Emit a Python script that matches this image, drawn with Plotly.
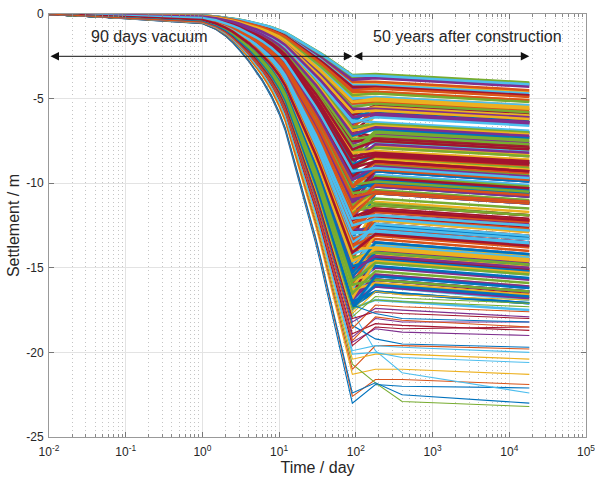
import math
import plotly.graph_objects as go

# ---------------- data ----------------
vacuum_days = [0.01, 1, 1.5, 2, 2.5, 3, 4, 5, 6, 7, 8, 10, 12, 15, 20, 25, 30, 35,
               40, 50, 60, 70, 80, 90]
vacuum_fraction = [0, 0.025, 0.04, 0.057, 0.075, 0.092, 0.122, 0.148, 0.172, 0.195,
                   0.216, 0.258, 0.30, 0.37, 0.46, 0.53, 0.59, 0.645, 0.695, 0.78,
                   0.845, 0.90, 0.95, 1.0]

band_post_days = [180, 18250]
deep_post_days = [180, 400, 18250]

band_s90 = [
    -7.3, -12.8, -4.1, -15.6, -9.9, -5.4, -16.9, -11.2, -8.0, -13.7,
    -3.8, -14.4, -10.5, -6.6, -17.3, -12.1, -4.7, -9.2, -15.0, -7.9,
    -11.8, -5.9, -16.2, -8.6, -13.1, -3.6, -10.0, -14.9, -6.2, -12.5,
    -17.5, -4.4, -9.5, -15.9, -7.0, -11.5, -5.1, -13.9, -8.9, -16.5,
    -10.8, -6.9, -14.1, -4.0, -12.3, -16.0, -7.6, -9.0, -5.7, -13.3,
    -15.3, -8.3, -3.9, -11.0, -17.0, -6.0, -12.9, -10.2, -4.9, -14.6,
    -9.3, -16.7, -7.1, -13.5, -5.3, -11.6, -15.5, -8.4, -4.2, -12.0,
    -6.4, -14.0, -10.7, -17.2, -8.1, -5.0, -13.0, -9.7, -15.8, -7.4,
    -11.4, -3.7, -16.3, -12.6, -6.8, -10.3, -14.8, -8.7, -5.5, -17.4,
    -13.6, -9.1, -4.6, -15.2, -7.7, -11.9, -6.3, -16.6, -10.1, -14.3,
    -5.2, -12.2, -8.8, -17.1, -4.3, -13.8, -9.6, -15.7, -6.5, -11.1,
    -16.1, -7.5, -10.4, -14.5, -5.8, -12.7, -8.2, -3.65, -13.4, -9.4,
    -6.7, -15.1, -11.3, -4.8, -16.4, -10.6, -7.2, -14.2, -12.4, -5.6,
    -8.5, -13.2, -16.8, -9.8, -4.5, -15.4, -6.1, -11.7, -14.7, -10.9,
    -8.9, -13.3, -16.1, -10.9, -6.7, -14.7, -12.0, -9.4, -15.9, -11.6,
    -17.1, -7.8, -12.9, -15.0, -10.4, -13.8, -8.2, -16.6, -11.3, -14.2,
    -9.6, -15.5, -12.4, -6.9, -16.9, -10.1, -13.5, -8.6, -14.9, -11.9,
    -16.3, -11.1, -7.4, -14.0, -9.1, -17.4, -12.7, -5.8, -15.2, -10.6,
    -13.0, -8.0, -15.7, -11.5, -16.8, -9.8, -14.4, -6.4, -12.2, -17.0,
    -10.2, -14.6, -7.1, -16.0, -12.5, -9.0, -15.3, -13.7, -5.2, -11.0,
    -15.8, -12.1, -8.4, -17.3, -10.8, -13.9, -6.1, -16.5, -9.3, -14.1,
]
band_s180 = [
    -6.5, -11.3, -4.1, -13.6, -10.2, -5.3, -15.7, -10.6, -8.5, -11.5,
    -3.7, -11.9, -9.5, -6.8, -16.4, -12.4, -4.6, -7.8, -14.5, -7.6,
    -10.0, -5.9, -13.6, -7.9, -13.5, -3.55, -9.8, -13.8, -5.8, -11.6,
    -15.9, -4.3, -10.0, -15.5, -5.9, -9.1, -5.1, -13.6, -7.2, -14.4,
    -10.1, -7.3, -12.2, -4.0, -11.1, -15.0, -7.4, -8.1, -5.6, -10.6,
    -12.4, -7.8, -3.8, -11.2, -14.7, -5.4, -12.5, -8.6, -4.9, -13.8,
    -8.2, -16.1, -7.4, -12.2, -5.2, -11.5, -14.0, -8.6, -4.2, -10.0,
    -5.5, -13.3, -8.6, -14.4, -7.9, -4.9, -11.3, -9.3, -14.5, -6.0,
    -11.7, -3.6, -14.5, -12.0, -6.5, -9.0, -14.6, -7.7, -5.3, -16.9,
    -12.8, -9.7, -4.6, -13.0, -7.1, -10.9, -6.4, -14.1, -10.2, -12.7,
    -5.0, -9.9, -8.9, -15.7, -4.3, -12.6, -8.8, -15.4, -6.0, -9.6,
    -14.2, -7.4, -9.9, -12.1, -5.5, -12.8, -6.9, -3.65, -12.8, -9.8,
    -5.7, -14.2, -9.3, -4.7, -15.7, -9.7, -6.8, -11.6, -12.2, -5.6,
    -7.0, -13.0, -15.7, -9.2, -4.4, -13.6, -5.9, -11.3, -13.7, -9.2,
    -8.3, -12.9, -14.4, -10.6, -6.5, -13.5, -11.5, -9.3, -13.9, -10.5,
    -16.1, -7.5, -12.9, -14.4, -10.0, -11.9, -8.1, -15.7, -10.5, -13.7,
    -8.7, -14.1, -11.7, -6.6, -15.4, -9.9, -12.6, -8.3, -14.5, -10.6,
    -15.9, -10.2, -7.2, -12.4, -8.7, -16.0, -11.6, -5.7, -14.3, -10.4,
    -12.8, -7.5, -14.9, -10.1, -14.6, -9.0, -14.1, -6.1, -11.6, -16.4,
    -9.2, -13.9, -6.7, -15.7, -12.1, -8.4, -13.5, -13.1, -5.1, -10.5,
    -14.7, -11.9, -8.2, -15.5, -10.5, -13.8, -5.9, -15.2, -9.1, -13.0,
]
band_s50y = [
    -7.0, -11.9, -4.6, -14.3, -10.8, -5.8, -16.5, -11.2, -9.0, -12.2,
    -4.2, -12.5, -10.1, -7.3, -17.1, -13.1, -5.1, -8.4, -15.2, -8.1,
    -10.6, -6.4, -14.3, -8.4, -14.2, -4.05, -10.4, -14.5, -6.3, -12.2,
    -16.7, -4.8, -10.6, -16.2, -6.4, -9.7, -5.6, -14.3, -7.7, -15.1,
    -10.7, -7.8, -12.8, -4.5, -11.7, -15.7, -7.9, -8.7, -6.1, -11.2,
    -13.1, -8.3, -4.3, -11.9, -15.4, -5.9, -13.2, -9.2, -5.4, -14.5,
    -8.8, -16.9, -7.9, -12.8, -5.7, -12.2, -14.7, -9.1, -4.7, -10.6,
    -6.0, -14.0, -9.2, -15.1, -8.4, -5.4, -11.9, -9.9, -15.2, -6.5,
    -12.4, -4.1, -15.2, -12.6, -7.0, -9.6, -15.3, -8.2, -5.8, -17.5,
    -13.5, -10.3, -5.1, -13.7, -7.6, -11.5, -6.9, -14.8, -10.8, -13.3,
    -5.5, -10.5, -9.5, -16.4, -4.8, -13.3, -9.4, -16.1, -6.5, -10.2,
    -14.9, -7.9, -10.5, -12.7, -6.0, -13.5, -7.4, -4.15, -13.5, -10.4,
    -6.2, -14.9, -9.9, -5.2, -16.4, -10.3, -7.3, -12.2, -12.9, -6.1,
    -7.5, -13.7, -16.4, -9.8, -4.9, -14.3, -6.4, -11.9, -14.4, -9.8,
    -8.8, -13.6, -15.1, -11.2, -7.0, -14.2, -12.1, -9.9, -14.6, -11.1,
    -16.8, -8.0, -13.6, -15.1, -10.6, -12.5, -8.6, -16.4, -11.1, -14.4,
    -9.3, -14.8, -12.3, -7.1, -16.1, -10.5, -13.3, -8.8, -15.2, -11.2,
    -16.6, -10.8, -7.7, -13.1, -9.3, -16.7, -12.2, -6.2, -15.0, -11.0,
    -13.5, -8.0, -15.6, -10.7, -15.3, -9.6, -14.8, -6.6, -12.2, -17.1,
    -9.8, -14.6, -7.2, -16.4, -12.8, -8.9, -14.2, -13.8, -5.6, -11.1,
    -15.4, -12.5, -8.7, -16.2, -11.1, -14.5, -6.4, -15.9, -9.7, -13.7,
]

deep_s90 = [-23.0, -22.6, -21.3, -19.4, -20.7, -17.6, -18.9, -22.4, -21.0, -20.4,
            -18.2, -17.9, -19.9, -19.6, -18.4, -18.6, -17.7, -19.1, -17.4, -20.1,
            -18.0, -17.2, -19.3]
deep_s180 = [-21.9, -21.6, -21.0, -18.6, -21.8, -19.9, -18.3, -21.8, -19.6, -20.1,
             -17.4, -16.7, -19.6, -18.5, -19.2, -17.2, -16.4, -18.0, -16.9, -20.0,
             -17.6, -17.7, -17.9]
deep_s400 = [-22.0, -21.6, -21.0, -18.8, -22.9, -21.2, -18.4, -22.5, -19.6, -20.1,
             -17.5, -16.8, -19.7, -18.6, -19.5, -17.3, -16.6, -18.2, -17.0, -20.3,
             -17.7, -18.0, -18.1]
deep_s50y = [-22.1, -21.9, -21.3, -19.0, -23.2, -22.4, -18.7, -23.0, -19.8, -20.4,
             -17.9, -17.1, -20.0, -18.5, -19.7, -17.6, -16.9, -18.2, -17.3, -20.6,
             -18.0, -18.2, -18.5]

y_tick_values = [0, -5, -10, -15, -20, -25]
x_tick_exponents = [-2, -1, 0, 1, 2, 3, 4, 5]

vacuum_label = "90 days vacuum"
post_label = "50 years after construction"

# ---------------- styling ----------------
palette = ["#0072BD", "#D95319", "#EDB120", "#7E2F8E", "#77AC30", "#4DBEEE", "#A2142F"]
FONT = "Liberation Sans, Arial, Helvetica, sans-serif"
TXT = "#262626"

fig = go.Figure()
for i, s in enumerate(band_s90):
    xs = vacuum_days + band_post_days
    ys = [s * f for f in vacuum_fraction] + [band_s180[i], band_s50y[i]]
    fig.add_trace(go.Scatter(x=xs, y=ys, mode="lines",
                             line=dict(color=palette[i % 7], width=2.5),
                             showlegend=False, hoverinfo="skip"))
for i, s in enumerate(deep_s90):
    xs = vacuum_days + deep_post_days
    ys = [s * f for f in vacuum_fraction] + [deep_s180[i], deep_s400[i], deep_s50y[i]]
    fig.add_trace(go.Scatter(x=xs, y=ys, mode="lines",
                             line=dict(color=palette[i % 7], width=1.1),
                             showlegend=False, hoverinfo="skip"))

t_start = vacuum_days[0]
t_vac = vacuum_days[-1]
t_end = band_post_days[-1]
arrow_y = -2.5
label_y = -1.35

for a, b in [(t_start, t_vac), (t_vac, t_end)]:
    fig.add_annotation(x=math.log10(b), y=arrow_y, ax=math.log10(a), ay=arrow_y,
                       xref="x", yref="y", axref="x", ayref="y", text="",
                       showarrow=True, arrowhead=2, startarrowhead=2,
                       arrowside="end+start", arrowsize=1.7, startarrowsize=1.7,
                       arrowwidth=1, arrowcolor="#111", standoff=0, startstandoff=0)

fig.add_annotation(x=-0.69, y=label_y, xref="x", yref="y", text=vacuum_label,
                   showarrow=False, font=dict(family=FONT, size=16, color=TXT))
fig.add_annotation(x=3.46, y=label_y, xref="x", yref="y", text=post_label,
                   showarrow=False, font=dict(family=FONT, size=16, color=TXT))

minor_vals = [m * 10 ** e for e in x_tick_exponents[:-1] for m in range(2, 10)]

fig.update_layout(
    width=595, height=481,
    margin=dict(l=49, r=9, t=14, b=44),
    paper_bgcolor="white", plot_bgcolor="white",
    font=dict(family=FONT, size=12, color=TXT),
    xaxis=dict(
        type="log", range=[-2, 5], automargin=False,
        tickmode="array",
        tickvals=[10 ** e for e in x_tick_exponents],
        ticktext=["10<sup>%d</sup>" % e for e in x_tick_exponents],
        ticklabeloverflow="allow", ticklabelstandoff=4,
        ticks="inside", ticklen=5, tickcolor="#777",
        showline=True, linecolor="#999", linewidth=1, mirror="ticks",
        showgrid=True, gridcolor="#e3e3e3", gridwidth=1,
        minor=dict(tickmode="array", tickvals=minor_vals, ticks="inside",
                   ticklen=3, tickcolor="#888", showgrid=True,
                   gridcolor="#c4c4c4", griddash="1px,3px", gridwidth=1),
        zeroline=False,
        tickfont=dict(family=FONT, size=12, color=TXT),
        title=dict(text="Time / day", font=dict(family=FONT, size=16, color=TXT),
                   standoff=1),
    ),
    yaxis=dict(
        range=[-25, 0], automargin=False,
        tickmode="array", tickvals=y_tick_values,
        ticktext=[str(v) for v in y_tick_values],
        ticklabelstandoff=2,
        ticks="inside", ticklen=5, tickcolor="#777",
        showline=True, linecolor="#999", linewidth=1, mirror="ticks",
        showgrid=True, gridcolor="#e3e3e3", gridwidth=1,
        zeroline=False,
        tickfont=dict(family=FONT, size=12, color=TXT),
        title=dict(text="Settlement / m", font=dict(family=FONT, size=16, color=TXT),
                   standoff=2),
    ),
)

fig.write_html("out.html", config={"displayModeBar": False},
               post_script="document.body.style.margin='0px';")
